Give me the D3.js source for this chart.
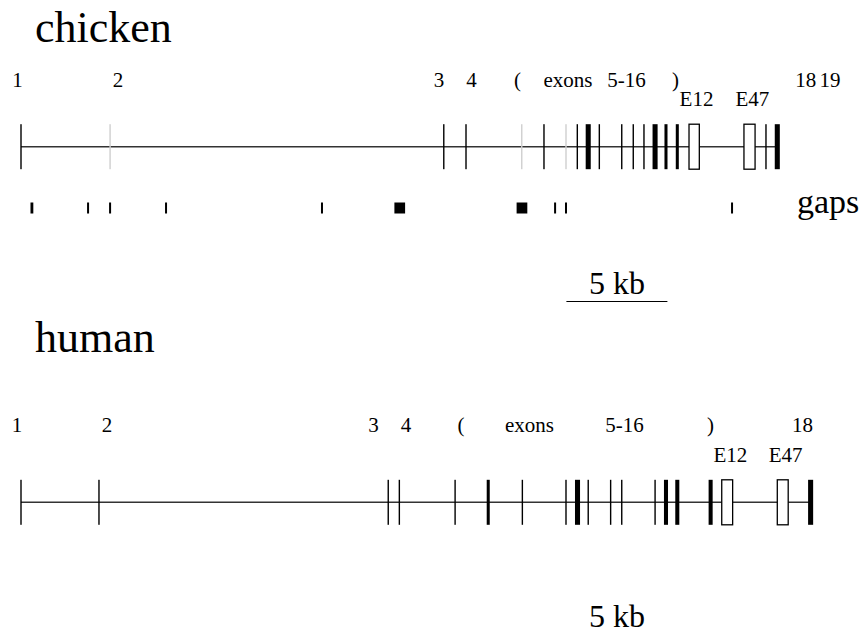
<!DOCTYPE html>
<html>
<head>
<meta charset="utf-8">
<script src="https://cdn.jsdelivr.net/npm/d3@7"></script>
<style>
  body { margin: 0; background: #fff; }
</style>
</head>
<body>
<svg id="chart" width="865" height="639" font-family="'Liberation Serif', 'Times New Roman', Times, 'DejaVu Serif', serif"></svg>
<script>
'use strict';

// positions in kb from the first exon, lengths in kb
var chickenExons = [
    { pos: 0.00, len: 0.05, kind: 'exon' },
    { pos: 4.41, len: 0.05, kind: 'partial' },
    { pos: 20.93, len: 0.05, kind: 'exon' },
    { pos: 22.03, len: 0.05, kind: 'exon' },
    { pos: 24.79, len: 0.05, kind: 'partial' },
    { pos: 25.89, len: 0.05, kind: 'exon' },
    { pos: 26.98, len: 0.05, kind: 'partial' },
    { pos: 27.54, len: 0.05, kind: 'exon' },
    { pos: 28.08, len: 0.25, kind: 'exon' },
    { pos: 28.63, len: 0.05, kind: 'exon' },
    { pos: 29.74, len: 0.05, kind: 'exon' },
    { pos: 30.31, len: 0.05, kind: 'exon' },
    { pos: 30.84, len: 0.05, kind: 'exon' },
    { pos: 31.39, len: 0.25, kind: 'exon' },
    { pos: 31.93, len: 0.15, kind: 'exon' },
    { pos: 32.49, len: 0.15, kind: 'exon' },
    { pos: 33.07, len: 0.51, kind: 'alt' },
    { pos: 35.79, len: 0.55, kind: 'alt' },
    { pos: 36.88, len: 0.05, kind: 'exon' },
    { pos: 37.44, len: 0.25, kind: 'exon' }
];
var chickenEnd = 37.44;

var chickenGaps = [
    { pos: 0.54, len: 0.14 },
    { pos: 3.32, len: 0.08 },
    { pos: 4.41, len: 0.08 },
    { pos: 7.18, len: 0.08 },
    { pos: 14.90, len: 0.08 },
    { pos: 18.75, len: 0.53 },
    { pos: 24.80, len: 0.53 },
    { pos: 26.44, len: 0.08 },
    { pos: 26.98, len: 0.08 },
    { pos: 35.20, len: 0.08 }
];

var chickenLabels = [
    { text: '1', pos: -0.17 }, { text: '2', pos: 4.80 },
    { text: '3', pos: 20.69 }, { text: '4', pos: 22.30 },
    { text: '(', pos: 24.58 }, { text: 'exons', pos: 27.08 },
    { text: '5-16', pos: 29.98 }, { text: ')', pos: 32.40 },
    { text: '18', pos: 38.85 }, { text: '19', pos: 40.05 }
];
var chickenIsoforms = [
    { text: 'E12', pos: 33.44 }, { text: 'E47', pos: 36.21 }
];

var humanExons = [
    { pos: 0.00, len: 0.05, kind: 'exon' },
    { pos: 3.86, len: 0.05, kind: 'exon' },
    { pos: 18.18, len: 0.05, kind: 'exon' },
    { pos: 18.73, len: 0.05, kind: 'exon' },
    { pos: 21.49, len: 0.05, kind: 'exon' },
    { pos: 23.13, len: 0.15, kind: 'exon' },
    { pos: 24.82, len: 0.05, kind: 'exon' },
    { pos: 26.98, len: 0.05, kind: 'exon' },
    { pos: 27.55, len: 0.25, kind: 'exon' },
    { pos: 28.08, len: 0.05, kind: 'exon' },
    { pos: 29.19, len: 0.05, kind: 'exon' },
    { pos: 29.74, len: 0.05, kind: 'exon' },
    { pos: 31.39, len: 0.05, kind: 'exon' },
    { pos: 31.93, len: 0.20, kind: 'exon' },
    { pos: 32.49, len: 0.20, kind: 'exon' },
    { pos: 34.14, len: 0.20, kind: 'exon' },
    { pos: 34.69, len: 0.54, kind: 'alt' },
    { pos: 37.44, len: 0.54, kind: 'alt' },
    { pos: 39.09, len: 0.25, kind: 'exon' }
];
var humanEnd = 39.09;

var humanLabels = [
    { text: '1', pos: -0.20 }, { text: '2', pos: 4.26 },
    { text: '3', pos: 17.45 }, { text: '4', pos: 19.06 },
    { text: '(', pos: 21.78 }, { text: 'exons', pos: 25.17 },
    { text: '5-16', pos: 29.88 }, { text: ')', pos: 34.13 },
    { text: '18', pos: 38.69 }
];
var humanIsoforms = [
    { text: 'E12', pos: 35.12 }, { text: 'E47', pos: 37.85 }
];

var scaleBar = { start: 27.0, len: 5, text: '5 kb' };

var svg = d3.select('#chart');

var x = d3.scaleLinear()
    .domain([0, 40])
    .range([21, 829]);

function px(len) {
    return x(len) - x(0);
}

function drawGene(g, exons, end, lineY) {
    var half = 22.5;

    g.append('line')
        .attr('x1', x(0))
        .attr('x2', x(end))
        .attr('y1', lineY)
        .attr('y2', lineY)
        .attr('stroke', '#333')
        .attr('stroke-width', 1.5);

    g.selectAll('rect.exon')
        .data(exons.filter(function(d) { return d.kind !== 'alt'; }))
        .enter()
        .append('rect')
        .attr('class', 'exon')
        .attr('x', function(d) { return x(d.pos) - Math.max(1.4, px(d.len)) / 2; })
        .attr('width', function(d) { return Math.max(1.4, px(d.len)); })
        .attr('y', lineY - half)
        .attr('height', half * 2)
        .attr('fill', function(d) { return d.kind === 'partial' ? '#cfcfcf' : '#000'; });

    g.selectAll('rect.alt')
        .data(exons.filter(function(d) { return d.kind === 'alt'; }))
        .enter()
        .append('rect')
        .attr('class', 'alt')
        .attr('x', function(d) { return x(d.pos); })
        .attr('width', function(d) { return px(d.len); })
        .attr('y', lineY - half)
        .attr('height', half * 2)
        .attr('fill', '#fff')
        .attr('stroke', '#000')
        .attr('stroke-width', 1.3);
}

function drawLabels(g, labels, y, size) {
    g.selectAll(null)
        .data(labels)
        .enter()
        .append('text')
        .attr('x', function(d) { return x(d.pos); })
        .attr('y', y)
        .attr('text-anchor', 'middle')
        .attr('font-size', size)
        .text(function(d) { return d.text; });
}

// chicken
var chicken = svg.append('g').attr('id', 'chicken');

chicken.append('text')
    .attr('x', 35)
    .attr('y', 42)
    .attr('font-size', 44)
    .text('chicken');

drawLabels(chicken, chickenLabels, 87, 21);
drawLabels(chicken, chickenIsoforms, 106, 21);
drawGene(chicken, chickenExons, chickenEnd, 146.7);

chicken.selectAll('rect.gap')
    .data(chickenGaps)
    .enter()
    .append('rect')
    .attr('class', 'gap')
    .attr('x', function(d) { return x(d.pos) - Math.max(2, px(d.len)) / 2; })
    .attr('width', function(d) { return Math.max(2, px(d.len)); })
    .attr('y', 202.5)
    .attr('height', 11)
    .attr('fill', '#000');

chicken.append('text')
    .attr('x', 797)
    .attr('y', 213)
    .attr('font-size', 34)
    .text('gaps');

chicken.append('line')
    .attr('x1', x(scaleBar.start))
    .attr('x2', x(scaleBar.start + scaleBar.len))
    .attr('y1', 301.5)
    .attr('y2', 301.5)
    .attr('stroke', '#000')
    .attr('stroke-width', 1.2);

chicken.append('text')
    .attr('x', x(scaleBar.start + scaleBar.len / 2))
    .attr('y', 294)
    .attr('text-anchor', 'middle')
    .attr('font-size', 32)
    .text(scaleBar.text);

// human
var human = svg.append('g').attr('id', 'human');

human.append('text')
    .attr('x', 35)
    .attr('y', 352)
    .attr('font-size', 44)
    .text('human');

drawLabels(human, humanLabels, 432, 21);
drawLabels(human, humanIsoforms, 462, 21);
drawGene(human, humanExons, humanEnd, 502.3);

human.append('text')
    .attr('x', x(scaleBar.start + scaleBar.len / 2))
    .attr('y', 627)
    .attr('text-anchor', 'middle')
    .attr('font-size', 32)
    .text(scaleBar.text);
</script>
</body>
</html>
